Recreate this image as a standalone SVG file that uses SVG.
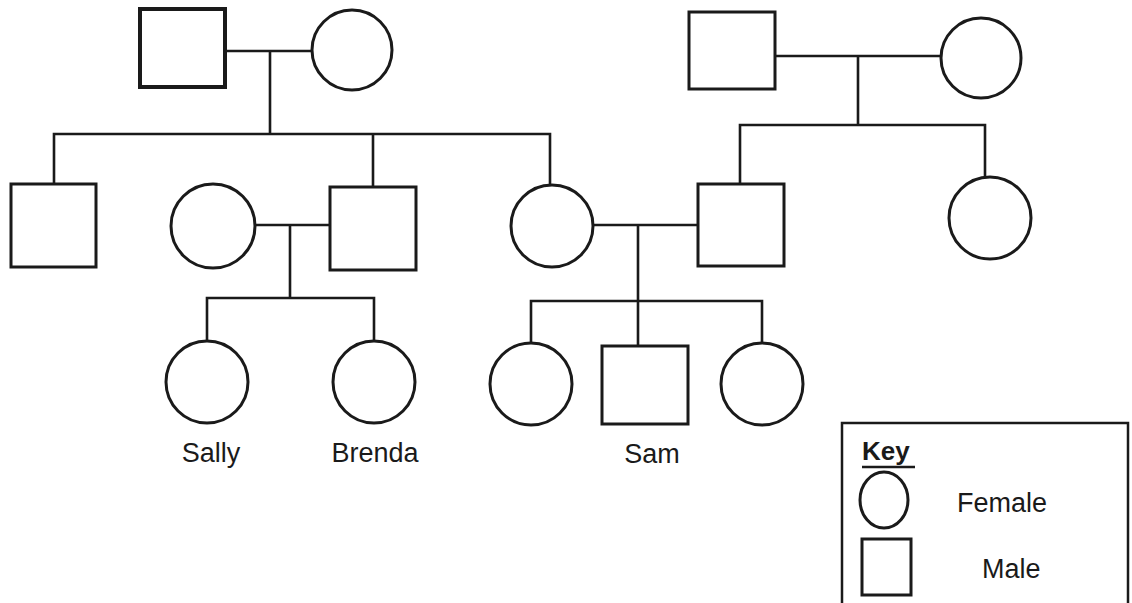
<svg xmlns="http://www.w3.org/2000/svg" width="1132" height="603" viewBox="0 0 1132 603">
<style>
.s{fill:#fff;stroke:#1a1a1a;stroke-width:3}
.l{fill:none;stroke:#1a1a1a;stroke-width:2.6;stroke-linecap:square}
.t{font-family:"Liberation Sans",Arial,sans-serif;font-size:27px;fill:#1a1a1a}
.k{font-family:"Liberation Sans",Arial,sans-serif;font-size:26px;font-weight:bold;fill:#1a1a1a}
</style>
<rect width="1132" height="603" fill="#fff"/>
<g id="connectors">
<path class="l" d="M225 51H312M270 51V134M54 134H550M54 134V184M373 134V187M550 134V184"/>
<path class="l" d="M775 56H941M858 56V125M740 125H985M740 125V184M985 125V177"/>
<path class="l" d="M255 225H330M290 225V298M207 298H374M207 298V341M374 298V341"/>
<path class="l" d="M593 225H698M638 225V301M531 301H762M531 301V343M638 301V346M762 301V343"/>
</g>
<g id="gp1-male"><rect class="s" x="140" y="9" width="85" height="78" style="stroke-width:4"/></g>
<g id="gp1-female"><circle class="s" cx="352" cy="50" r="40"/></g>
<g id="gp2-male"><rect class="s" x="689" y="12" width="86" height="77"/></g>
<g id="gp2-female"><circle class="s" cx="981" cy="58" r="40"/></g>
<g id="uncle"><rect class="s" x="11" y="184" width="85" height="83"/></g>
<g id="mother1"><circle class="s" cx="213" cy="226" r="42"/></g>
<g id="father1"><rect class="s" x="330" y="187" width="86" height="83"/></g>
<g id="mother2"><circle class="s" cx="552" cy="226" r="41"/></g>
<g id="father2"><rect class="s" x="698" y="184" width="86" height="82"/></g>
<g id="aunt"><circle class="s" cx="990" cy="218" r="41"/></g>
<g id="sally"><circle class="s" cx="207" cy="382" r="41"/><text class="t" x="211" y="462" text-anchor="middle">Sally</text></g>
<g id="brenda"><circle class="s" cx="374" cy="382" r="41"/><text class="t" x="375" y="462" text-anchor="middle">Brenda</text></g>
<g id="sister1"><circle class="s" cx="531" cy="384" r="41"/></g>
<g id="sam"><rect class="s" x="602" y="346" width="86" height="78"/><text class="t" x="652" y="463" text-anchor="middle">Sam</text></g>
<g id="sister2"><circle class="s" cx="762" cy="384" r="41"/></g>
<g id="key">
<rect class="s" x="842" y="423" width="286" height="190" style="stroke-width:2.5"/>
<text class="k" x="862" y="460">Key</text>
<line x1="862" y1="467" x2="915" y2="467" stroke="#1a1a1a" stroke-width="2.5"/>
<ellipse class="s" cx="884" cy="500" rx="24" ry="28"/>
<text class="t" x="957" y="512">Female</text>
<rect class="s" x="862" y="539" width="49" height="56"/>
<text class="t" x="982" y="578">Male</text>
</g>
</svg>
